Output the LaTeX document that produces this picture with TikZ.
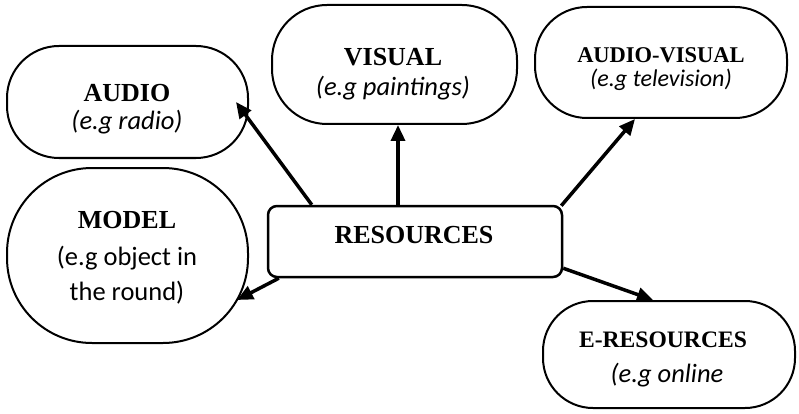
\documentclass[tikz,border=0pt]{standalone}
\usepackage{fontspec}
\setmainfont{Liberation Serif}
\newfontfamily\calibri{Carlito}
\usetikzlibrary{arrows.meta}
\begin{document}
\begin{tikzpicture}[x=1pt,y=-1pt,
  bubble/.style={draw, line width=2pt, rounded corners=#1, inner sep=0pt},
  ttl/.style={font=\fontsize{26}{30}\selectfont\bfseries, inner sep=0pt},
  ttlsmall/.style={font=\fontsize{22.5}{26}\selectfont\bfseries, inner sep=0pt},
  ttlmid/.style={font=\fontsize{23.6}{27}\selectfont\bfseries, inner sep=0pt},
  sub/.style={font=\calibri\fontsize{26.5}{30}\selectfont\itshape, inner sep=0pt},
  subsmall/.style={font=\calibri\fontsize{24}{28}\selectfont\itshape, inner sep=0pt},
  subup/.style={font=\calibri\fontsize{26.5}{30}\selectfont, inner sep=0pt},
  arr/.style={line width=3.5pt, -{Triangle[length=16pt,width=14pt]}}]
\useasboundingbox (0,0) rectangle (799,414);

% boxes
\node[bubble=52, minimum width=241pt, minimum height=112pt] (audio) at (127.5,102) {};
\node[bubble=55, minimum width=245pt, minimum height=119pt] (visual) at (394.5,64.5) {};
\node[bubble=52, minimum width=252pt, minimum height=111pt] (av) at (661,62.5) {};
\node[bubble=85, minimum width=241pt, minimum height=175pt] (model) at (127.5,255.5) {};
\node[draw, line width=2.5pt, rounded corners=9, inner sep=0pt, minimum width=294pt, minimum height=71pt] (res) at (415,241.5) {};
\node[bubble=50, minimum width=252pt, minimum height=107pt] (eres) at (669,354.5) {};

% texts
\node[ttl] (tA) at (127,93) {AUDIO};
\node[sub] (sA) at (127,122) {(e.g radio)};
\node[ttl] (tV) at (393,57) {VISUAL};
\node[sub] (sV) at (393,88) {(e.g paintings)};
\node[ttlsmall] (tAV) at (661,55) {AUDIO-VISUAL};
\node[subsmall] (sAV) at (661,80) {(e.g television)};
\node[ttl] (tM) at (127,220) {MODEL};
\node[subup] (sM1) at (127,258) {(e.g object in};
\node[subup] (sM2) at (127,293) {the round)};
\node[ttl] (tR) at (414,235) {RESOURCES};
\node[ttlmid] (tE) at (663,340) {E-RESOURCES};
\node[sub] (sE) at (667,375) {(e.g online};

% connectors
\draw[arr] ([xshift=45pt]res.north west) -- ([xshift=-13pt]audio.east);
\draw[arr] ([xshift=-17pt]res.north) -- ([xshift=3.5pt]visual.south);
\draw[arr] ([xshift=-2pt,yshift=-1pt]res.north east) -- ([xshift=-26pt]av.south);
\draw[arr] ([xshift=12pt]res.south west) -- ([xshift=-12pt,yshift=-44.5pt]model.east);
\draw[arr] ([yshift=10pt]res.south east) -- ([xshift=-16pt]eres.north);
\end{tikzpicture}
\end{document}
